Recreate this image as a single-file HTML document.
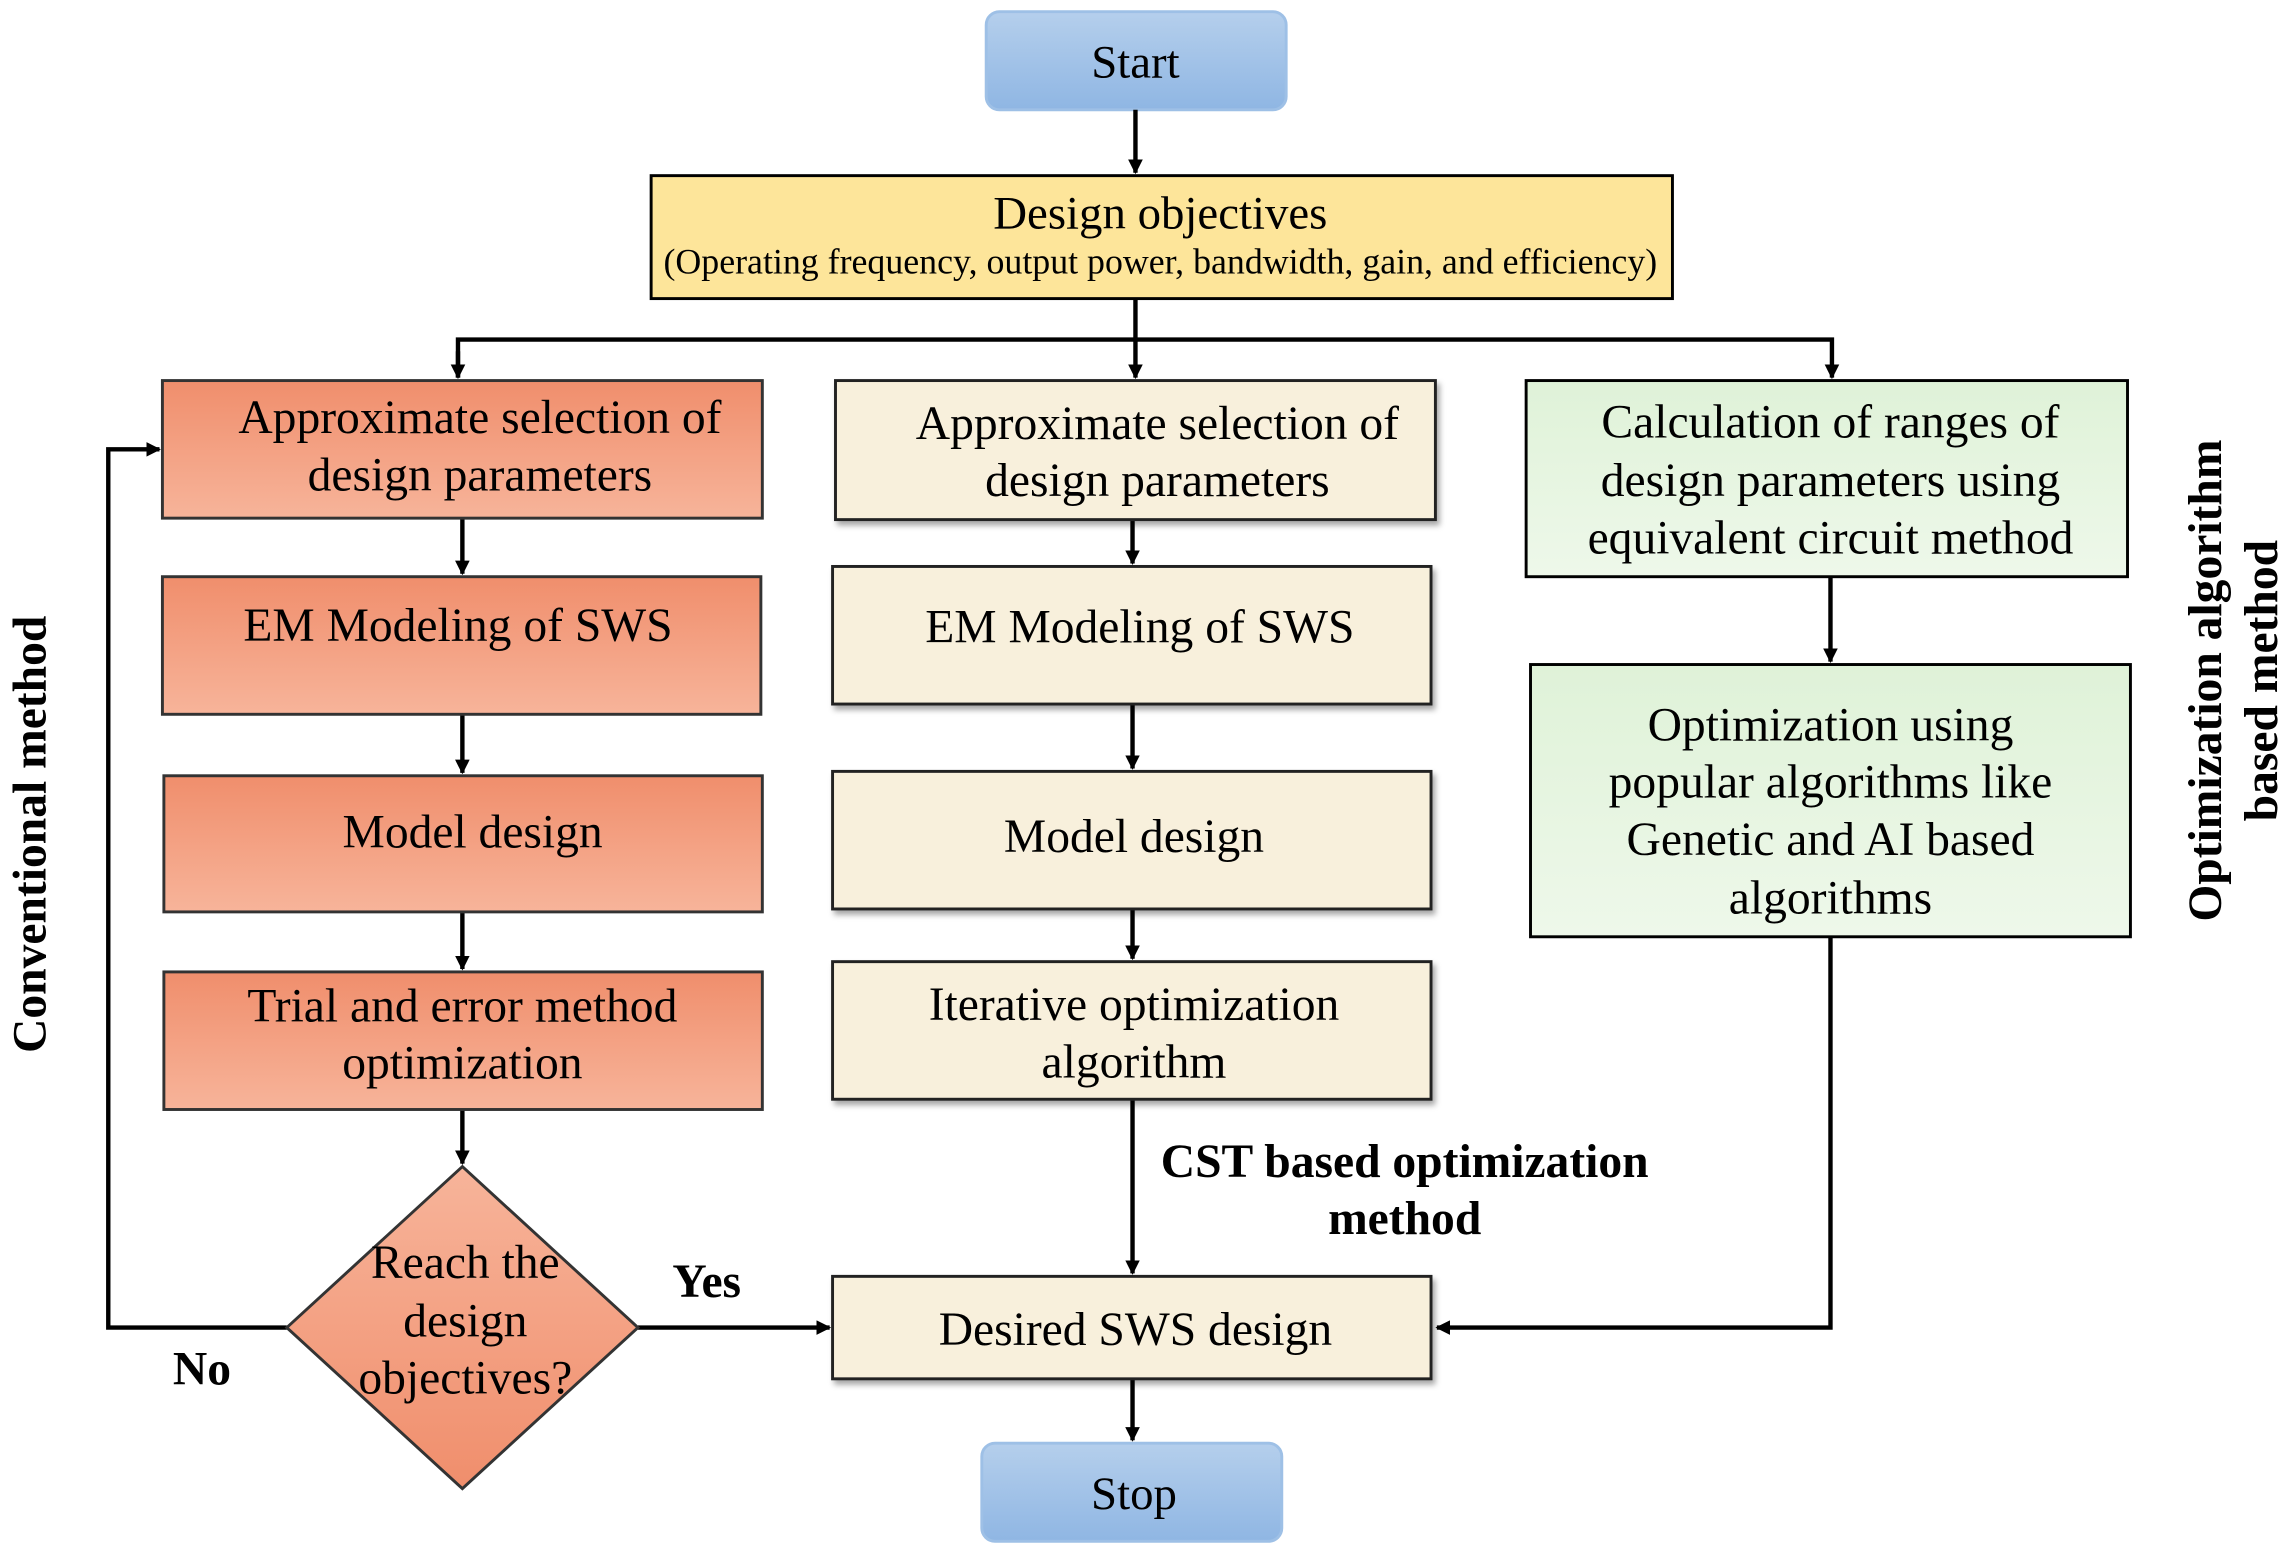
<!DOCTYPE html>
<html><head><meta charset="utf-8"><style>
html,body{margin:0;padding:0;background:#fff;}
svg{display:block;}
text{font-family:"Liberation Serif",serif;fill:#000;}
</style></head><body>
<svg width="2287" height="1553" viewBox="0 0 1563 1061" preserveAspectRatio="none" xmlns="http://www.w3.org/2000/svg">
<defs>
<linearGradient id="blue" x1="0" y1="0" x2="0" y2="1"><stop offset="0" stop-color="#b5cfec"/><stop offset="1" stop-color="#8fb6e3"/></linearGradient>
<linearGradient id="sal" x1="0" y1="0" x2="0" y2="1"><stop offset="0" stop-color="#f08e6c"/><stop offset="1" stop-color="#f7b49a"/></linearGradient>
<linearGradient id="salh" x1="0" y1="0" x2="0" y2="1"><stop offset="0" stop-color="#f7b49a"/><stop offset="1" stop-color="#f08e6c"/></linearGradient>
<linearGradient id="grn" x1="0" y1="0" x2="0" y2="1"><stop offset="0" stop-color="#dff2d8"/><stop offset="1" stop-color="#eef8ea"/></linearGradient>
<marker id="ar" markerWidth="10" markerHeight="10" refX="9" refY="5" orient="auto" markerUnits="userSpaceOnUse"><path d="M0,0 L10,5 L0,10 z" fill="#000"/></marker>
<filter id="sh" x="-5%" y="-5%" width="115%" height="125%"><feDropShadow dx="2" dy="3" stdDeviation="2" flood-color="#000" flood-opacity="0.35"/></filter>
</defs>

<rect x="674" y="8" width="205" height="67" rx="9" fill="url(#blue)" stroke="#9ec0e6" stroke-width="2"/>
<text x="776" y="53" font-size="32" text-anchor="middle">Start</text>
<line x1="776" y1="75" x2="776" y2="118" stroke="#000" stroke-width="3" marker-end="url(#ar)"/>

<rect x="445" y="120" width="698" height="84" fill="#fde59a" stroke="#000" stroke-width="2"/>
<text x="793" y="156" font-size="32" text-anchor="middle">Design objectives</text>
<text x="793" y="187" font-size="24.5" text-anchor="middle">(Operating frequency, output power, bandwidth, gain, and efficiency)</text>

<g stroke="#000" stroke-width="3" fill="none">
<line x1="776" y1="204" x2="776" y2="258" marker-end="url(#ar)"/>
<polyline points="313,258 313,232 1252,232 1252,258" marker-end="url(#ar)"/>
<line x1="313" y1="240" x2="313" y2="258" marker-end="url(#ar)"/>
<line x1="316" y1="354" x2="316" y2="392" marker-end="url(#ar)"/>
<line x1="316" y1="488" x2="316" y2="528" marker-end="url(#ar)"/>
<line x1="316" y1="623" x2="316" y2="662" marker-end="url(#ar)"/>
<line x1="316" y1="758" x2="316" y2="795" marker-end="url(#ar)"/>
<polyline points="196,907 74,907 74,307 109,307" marker-end="url(#ar)"/>
<line x1="436" y1="907" x2="567" y2="907" marker-end="url(#ar)"/>
<line x1="774" y1="355" x2="774" y2="385" marker-end="url(#ar)"/>
<line x1="774" y1="481" x2="774" y2="525" marker-end="url(#ar)"/>
<line x1="774" y1="621" x2="774" y2="655" marker-end="url(#ar)"/>
<line x1="774" y1="751" x2="774" y2="870" marker-end="url(#ar)"/>
<line x1="774" y1="942" x2="774" y2="984" marker-end="url(#ar)"/>
<line x1="1251" y1="394" x2="1251" y2="452" marker-end="url(#ar)"/>
<polyline points="1251,640 1251,907 982,907" marker-end="url(#ar)"/>
</g>

<g stroke="#333" stroke-width="2" fill="url(#sal)">
<rect x="111" y="260" width="410" height="94"/>
<rect x="111" y="394" width="409" height="94"/>
<rect x="112" y="530" width="409" height="93"/>
<rect x="112" y="664" width="409" height="94"/>
<polygon points="316,797 436,907 316,1017 196,907" fill="url(#salh)"/>
</g>
<g font-size="32.5" text-anchor="middle">
<text x="328" y="296">Approximate selection of</text>
<text x="328" y="335">design parameters</text>
<text x="313" y="438">EM Modeling of SWS</text>
<text x="323" y="579">Model design</text>
<text x="316" y="698">Trial and error method</text>
<text x="316" y="737">optimization</text>
<text x="318" y="873">Reach the</text>
<text x="318" y="913">design</text>
<text x="318" y="952">objectives?</text>
</g>

<g stroke="#222" stroke-width="2" fill="#f8f0dc" filter="url(#sh)">
<rect x="571" y="260" width="410" height="95"/>
<rect x="569" y="387" width="409" height="94"/>
<rect x="569" y="527" width="409" height="94"/>
<rect x="569" y="657" width="409" height="94"/>
<rect x="569" y="872" width="409" height="70"/>
</g>
<g font-size="32.5" text-anchor="middle">
<text x="791" y="300">Approximate selection of</text>
<text x="791" y="339">design parameters</text>
<text x="779" y="439">EM Modeling of SWS</text>
<text x="775" y="582">Model design</text>
<text x="775" y="697">Iterative optimization</text>
<text x="775" y="736">algorithm</text>
<text x="776" y="919">Desired SWS design</text>
</g>

<g stroke="#000" stroke-width="2" fill="url(#grn)">
<rect x="1043" y="260" width="411" height="134"/>
<rect x="1046" y="454" width="410" height="186"/>
</g>
<g font-size="32.5" text-anchor="middle">
<text x="1251" y="299">Calculation of ranges of</text>
<text x="1251" y="339">design parameters using</text>
<text x="1251" y="378">equivalent circuit method</text>
<text x="1251" y="506">Optimization using</text>
<text x="1251" y="545">popular algorithms like</text>
<text x="1251" y="584">Genetic and AI based</text>
<text x="1251" y="624">algorithms</text>
</g>

<rect x="671" y="986" width="205" height="67" rx="9" fill="url(#blue)" stroke="#9ec0e6" stroke-width="2"/>
<text x="775" y="1031" font-size="32" text-anchor="middle">Stop</text>

<g font-size="32.5" font-weight="bold" text-anchor="middle">
<text x="483" y="886">Yes</text>
<text x="138" y="946">No</text>
<text x="960" y="804">CST based optimization</text>
<text x="960" y="843">method</text>
<text transform="translate(31,570) rotate(-90)">Conventional method</text>
<text transform="translate(1518,465) rotate(-90)">Optimization algorithm</text>
<text transform="translate(1556,465) rotate(-90)">based method</text>
</g>
</svg>
</body></html>
